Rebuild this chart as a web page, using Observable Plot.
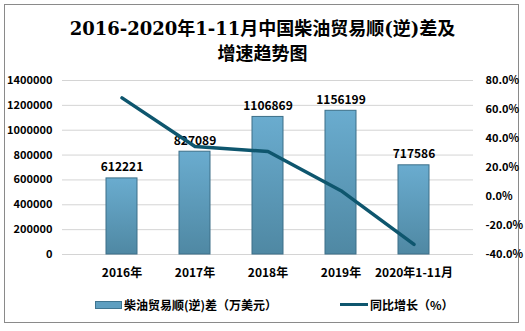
<!DOCTYPE html>
<html><head><meta charset="utf-8">
<script src="https://cdn.jsdelivr.net/npm/d3@7"></script>
<script src="https://cdn.jsdelivr.net/npm/@observablehq/plot@0.6"></script>
<style>
html,body{margin:0;padding:0;background:#fff;}
#wrap{position:relative;width:525px;height:331px;overflow:hidden;font-family:"Noto Sans CJK SC",sans-serif;}
#frame{position:absolute;left:4px;top:4px;width:515px;height:319px;border:1px solid #8a8a8a;box-sizing:border-box;}
#title{position:absolute;left:0;top:16px;width:525px;text-align:center;font-family:"DejaVu Serif","Noto Sans CJK SC",serif;font-weight:bold;font-size:18px;line-height:25px;color:#000;}
#chart{position:absolute;left:0;top:62px;}
#legend{position:absolute;left:0;top:296px;width:525px;font-size:12px;font-weight:bold;color:#000;}
.lg{position:absolute;display:flex;align-items:center;}
</style></head>
<body><div id="wrap"><div id="frame"></div>
<div id="title">2016-2020年1-11月中国柴油贸易顺(逆)差及<br>增速趋势图</div>
<div id="chart"></div>
<div id="legend">
<div class="lg" style="left:95px;"><span style="display:inline-block;width:25px;height:6px;background:#5f9fc0;border:1px solid #3f7590;margin-right:2px;"></span>柴油贸易顺(逆)差（万美元）</div>
<div class="lg" style="left:340px;"><span style="display:inline-block;width:28px;height:3px;background:#0e566e;margin-right:2px;"></span>同比增长（%）</div>
</div>
</div>
<script>
const categories = ["2016年","2017年","2018年","2019年","2020年1-11月"];
const tradeBalance = [612221, 827089, 1106869, 1156199, 717586];
const growthRate = [68.0, 34.5, 31.0, 4.0, -33.0];
const leftTicks = [0,200000,400000,600000,800000,1000000,1200000,1400000];
const rightTicks = [-40,-20,0,20,40,60,80];

const yMax = 1400000, pMin = -40, pMax = 80;
const toY = p => (p - pMin) / (pMax - pMin) * yMax;

const data = categories.map((c,i)=>({cat:c, v:tradeBalance[i], g:growthRate[i]}));

const chart = Plot.plot({
  width: 525, height: 224,
  marginLeft: 62, marginRight: 52, marginTop: 18, marginBottom: 32,
  style: {fontFamily: "'Noto Sans CJK SC', sans-serif", fontSize: "11px", fontWeight: "bold", color: "#000", background: "transparent"},
  x: {domain: categories, padding: 0.58, label: null},
  y: {domain: [0, yMax], label: null},
  marks: [
    () => {
      const ns = "http://www.w3.org/2000/svg";
      const defs = document.createElementNS(ns, "defs");
      defs.innerHTML = `<linearGradient id="barg" x1="0" y1="0" x2="0" y2="1">
        <stop offset="0" stop-color="#6aaccf"/><stop offset="1" stop-color="#4f88a3"/></linearGradient>`;
      return defs;
    },
    Plot.gridY(leftTicks, {stroke: "#d4d4d4", strokeOpacity: 1}),
    Plot.axisY(leftTicks, {anchor: "left", tickSize: 0, tickPadding: 10, tickFormat: d => String(d), fontSize: 11, fontWeight: "bold"}),
    Plot.axisY(rightTicks.map(toY), {anchor: "right", tickSize: 0, tickPadding: 12, tickFormat: (d,i) => rightTicks[i].toFixed(1) + "%", textAnchor: "start", fontSize: 11, fontWeight: "bold"}),
    Plot.axisX({tickSize: 0, tickPadding: 14, fontSize: 12, fontWeight: "bold"}),
    Plot.barY(data, {x: "cat", y: "v", fill: "url(#barg)", stroke: "#3c6f88", strokeWidth: 1}),
    Plot.text(data, {x: "cat", y: "v", text: d => String(d.v), dy: -11, fontSize: 12, fontWeight: "bold", fill: "#000"}),
    Plot.line(data, {x: "cat", y: d => toY(d.g), stroke: "#0e566e", strokeWidth: 3.5, strokeLinejoin: "round", strokeLinecap: "round"})
  ]
});
document.getElementById("chart").appendChild(chart);
</script>
</body></html>
